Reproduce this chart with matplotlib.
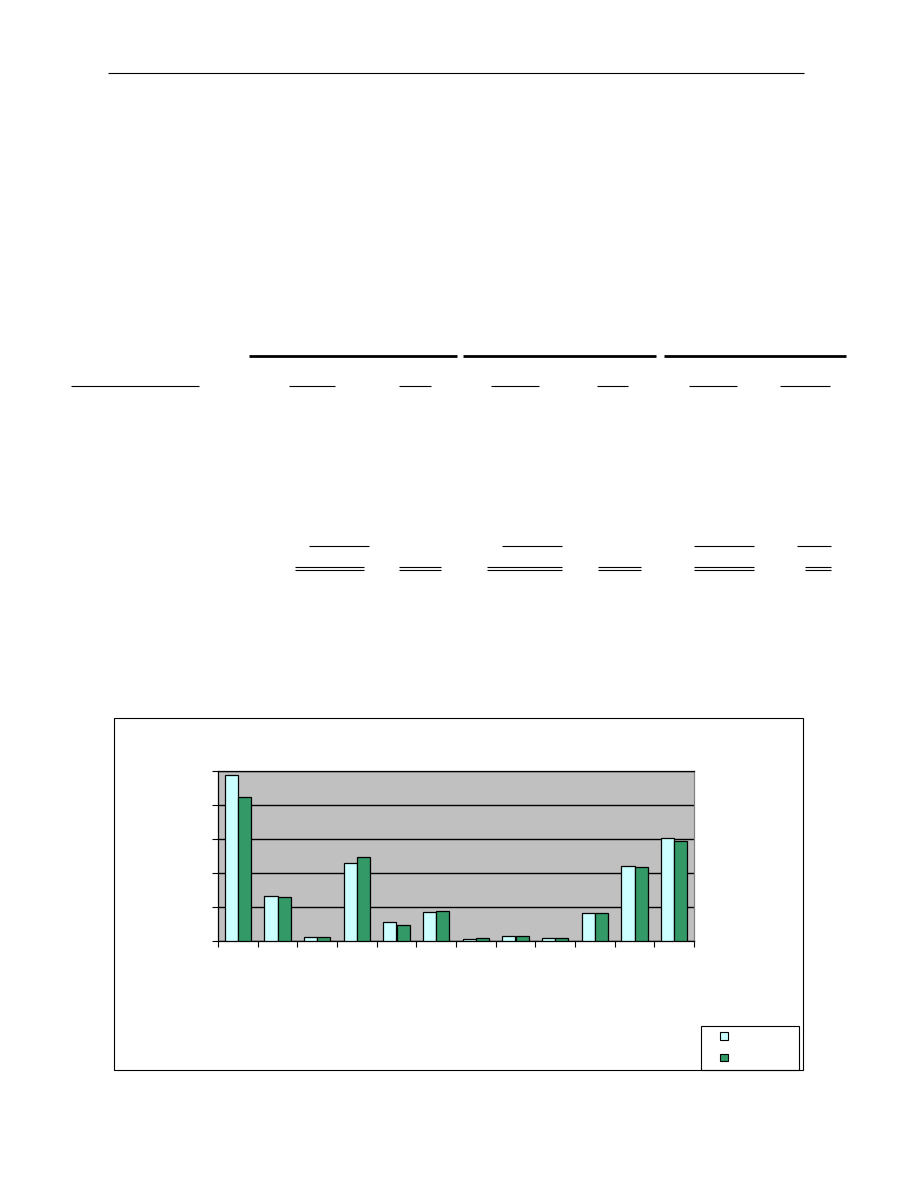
import matplotlib
matplotlib.use("Agg")
import matplotlib.pyplot as plt
from matplotlib.lines import Line2D
from matplotlib.patches import Rectangle
import numpy as np

W, H = 918, 1188

# ---- data ----
categories = [str(i) for i in range(1, 13)]
series_a = [48.7, 13.1, 1.3, 22.8, 5.7, 8.6, 0.7, 1.6, 1.0, 8.3, 22.2, 30.2]
series_b = [42.5, 12.8, 1.3, 24.6, 4.8, 8.9, 1.0, 1.6, 1.0, 8.3, 21.9, 29.3]
y_ticks = [0, 10, 20, 30, 40, 50]

color_a = "#CCFFFF"
color_b = "#339966"

fig = plt.figure(figsize=(W / 100, H / 100), dpi=100)

def fx(x):
    return x / W

def fy(y):
    return 1 - y / H

def hline(x0, x1, y, lw=0.75):
    fig.add_artist(Line2D([fx(x0), fx(x1)], [fy(y), fy(y)], color="black",
                          linewidth=lw, solid_capstyle="butt"))

# page rules
hline(108, 804, 73, 0.8)
for x0, x1 in [(249, 457), (463, 656), (664, 846)]:
    hline(x0, x1, 356, 2.0)
for x0, x1 in [(71, 199), (289, 335), (399, 431), (491, 539), (597, 628), (689, 737), (780, 830)]:
    hline(x0, x1, 386, 0.8)
for x0, x1 in [(309, 369), (502, 562), (694, 754), (797, 831)]:
    hline(x0, x1, 546, 0.8)
for x0, x1 in [(295, 364), (399, 441), (487, 562), (598, 641), (694, 754), (805, 831)]:
    hline(x0, x1, 566.5, 0.8)
    hline(x0, x1, 569.5, 0.8)

# chart box
fig.add_artist(Rectangle((fx(114), fy(1070)), fx(803) - fx(114), fy(718) - fy(1070),
                         fill=False, edgecolor="black", linewidth=0.8))

# plot area
ax = fig.add_axes([fx(218), fy(941), fx(694) - fx(218), fy(771) - fy(941)])
ax.set_facecolor("#C0C0C0")
n = len(categories)
x = np.arange(n) + 0.5
bw = 1 / 3
ax.bar(x - bw / 2, series_a, width=bw, color=color_a, edgecolor="black", linewidth=0.9, zorder=3)
ax.bar(x + bw / 2, series_b, width=bw, color=color_b, edgecolor="black", linewidth=0.9, zorder=3)
ax.set_xlim(0, n)
ax.set_ylim(0, 50)
ax.set_yticks(y_ticks)
ax.set_yticklabels([])
ax.set_xticks(np.arange(n + 1))
ax.set_xticklabels([])
ax.yaxis.grid(True, color="black", linewidth=1.0, zorder=1)
ax.set_axisbelow(True)
ax.tick_params(axis="y", direction="out", length=4, width=0.8, color="black")
ax.tick_params(axis="x", direction="out", length=4, width=0.8, color="black")
for s in ["left", "bottom", "top"]:
    ax.spines[s].set_color("black")
    ax.spines[s].set_linewidth(0.9)
ax.spines["right"].set_color("#808080")
ax.spines["right"].set_linewidth(0.9)

# legend box
fig.add_artist(Rectangle((fx(701), fy(1070)), fx(799) - fx(701), fy(1026) - fy(1070),
                         fill=False, edgecolor="black", linewidth=0.8))
fig.add_artist(Rectangle((fx(720), fy(1039.5)), fx(728) - fx(720), fy(1032) - fy(1039.5),
                         facecolor=color_a, edgecolor="black", linewidth=0.8))
fig.add_artist(Rectangle((fx(720), fy(1061)), fx(728) - fx(720), fy(1053.5) - fy(1061),
                         facecolor=color_b, edgecolor="black", linewidth=0.8))

fig.savefig("out.png", dpi=100)
